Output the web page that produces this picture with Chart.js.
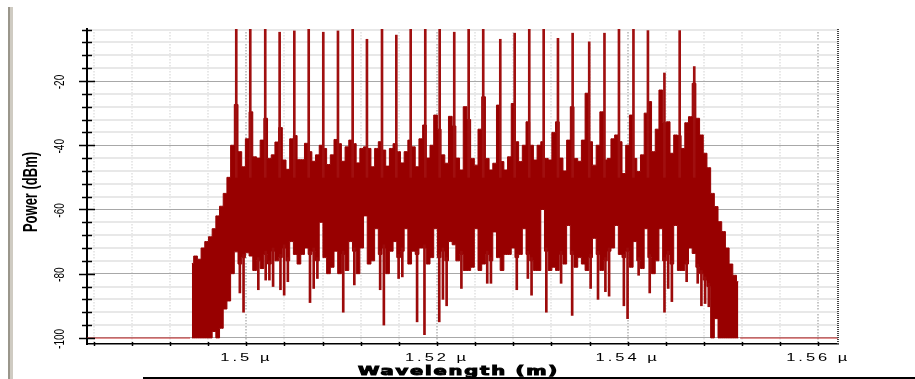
<!DOCTYPE html>
<html>
<head>
<meta charset="utf-8">
<script src="https://cdn.jsdelivr.net/npm/chart.js"></script>
<style>
  body { margin: 0; background: #fff; }
  #wrap { position: relative; width: 915px; height: 379px; overflow: hidden; }
  #leftBar { position: absolute; left: 8px; top: 7px; width: 5px; height: 372px;
             background: linear-gradient(to right, #9a968b 0 45%, #cfcbc2 45%); }
  #bottomLine { position: absolute; left: 143px; top: 377px; width: 772px; height: 2px; background: #000; }
  canvas { position: absolute; left: 0; top: 0; }
</style>
</head>
<body>
<div id="wrap">
  <canvas id="spectrum" width="915" height="379"></canvas>
  <div id="leftBar"></div>
  <div id="bottomLine"></div>
</div>
<script>
// 軸の範囲 (um, dBm)
const xMin = 1.48328, xMax = 1.56207;
const yMin = -101.9, yMax = -3.8;

// 目盛り
const xTickValues = [1.484, 1.488, 1.492, 1.496, 1.5, 1.504, 1.508, 1.512, 1.516, 1.52,
                     1.524, 1.528, 1.532, 1.536, 1.54, 1.544, 1.548, 1.552, 1.556, 1.56];
const xLabelValues = [1.5, 1.52, 1.54, 1.56];
const xLabels = ['1.5 µ', '1.52 µ', '1.54 µ', '1.56 µ'];
const yTickValues = [-100, -96, -92, -88, -84, -80, -76, -72, -68, -64, -60, -56, -52,
                     -48, -44, -40, -36, -32, -28, -24, -20, -16, -12, -8, -4];
const yLabelValues = [-100, -80, -60, -40, -20];
const yLabels = ['-100', '-80', '-60', '-40', '-20'];

// スペクトルのビン (開始波長, 間隔)
const binStartWl = 1.49428;
const binStepWl = 0.00038739;
// 各ビンの上端 (dBm)
const bodyHigh = [
  -76.8, -74.5, -75.5, -72, -70, -68.5, -66, -62, -59, -55, -50,
  -40, -27.3, -42, -46.7,   -38, -29.6, -43.6, -44,   -38.4, -31.6, -44.1, -43,
  -39, -34.5, -44.6, -47.5, -38, -37, -44.5, -44.5,   -39.4, -42, -45, -43,
  -40, -41, -46, -43,       -38.2, -39.5, -45, -40.5, -38.4, -39.5, -45.5, -41,
  -40.5, -41, -46.7, -41,   -38.9, -41.5, -46.5, -41, -39.5, -42, -45.5, -42,
  -38.4, -40.5, -46.7, -38, -33.7, -44, -40, -30.6,   -35, -43, -45.6, -31,
  -34, -44, -47.7, -28,     -32, -44.1, -46.2, -35,   -24.9, -44.1, -47.7, -45.6,
  -27.5, -45.1, -47.7, -43.6, -27, -38.9, -45.1, -40, -32.7, -40, -44.6, -40,
  -38.9, -44.1, -44.6, -36, -32.7, -44, -48, -38.4,   -28, -44.1, -45, -38.4,
  -23.8, -38.9, -46.2, -40, -29.6, -44.6, -44.1, -38, -36.8, -38.9, -48.8, -40,
  -30.6, -44.1, -48.2, -43, -30, -26.4, -42, -35,     -22.8, -33, -32.7, -42.5,
  -36.8, -37, -41, -33,     -31.1, -20.7, -31.6, -36.8,
  -42.5, -47, -55, -59.1,   -63.8, -66.9, -72, -77,   -80.5, -82.5
];
// 各ビンの塗りつぶし部分の下端 (dBm)
const bodyLow = [
  -100, -100, -100, -100, -100, -100, -98, -100, -97, -91, -88.5,
  -80, -73.2, -77, -75,     -73.5, -74.5, -79, -76,   -78.4, -74, -77, -73,
  -76, -75, -72, -76,       -70, -74, -77, -74,       -72, -74, -73, -76,
  -64, -75, -80, -78,       -73, -80, -74, -79,       -70, -73, -80, -72,
  -62, -77, -76, -66,       -74, -72, -80, -73,       -70, -75, -73, -66,
  -77, -73, -74, -72,       -72, -77, -75, -66,       -75, -73, -76, -70,
  -71, -76, -74, -79,       -79, -78, -66, -79,       -77, -74, -76, -67,
  -75, -79, -74, -74,       -72, -75, -74, -66,       -74, -76, -79, -79,
  -60, -73, -79, -78,       -79, -74, -77, -65,       -74, -78, -75, -77,
  -79, -75, -69, -74,       -79, -76, -73, -72,       -65, -74, -75, -73,
  -78, -70, -76, -78.4,     -66, -75, -80, -76,       -66, -76, -74, -77,
  -65, -79, -79, -77,       -72, -73.7, -78, -80,
  -82, -84, -100, -94,      -100, -100, -100, -100,   -100, -100
];
// 細い線で下に伸びる部分の最小値 (null = なし)
const dipLow = [
  null, null, null, null, null, null, null, null, null, null, null,
  null, null, -86, -92,     null, null, null, -85,    null, -82, -82, -84,
  null, -85, -86.7, -82.5,  null, null, null, null,   null, -89, -84.6, -81.5,
  null, null, null, null,   null, null, -92, null,    null, -83.5, null, null,
  null, null, null, null,   -85, -96, null, null,     null, -81.5, -81, null,
  null, null, -95, null,    -99, null, null, null,    -95, -88, -90, null,
  null, null, -84.6, null,  null, null, null, null,   null, -83, -83, null,
  null, null, null, null,   null, -85, null, null,    -81.5, -86.7, null, null,
  null, -92, null, null,    null, -83, null, null,    -93, null, null, null,
  null, -84.6, null, -88,   null, -85.6, -87, null,   null, null, -90, -94,
  null, null, -80.5, null,  null, -86, null, null,    null, -92, -84.6, -88.7,
  null, null, null, -82.5,  null, null, -83, -90,
  -89.3, -90.3, null, null, null, null, null, null,   null, null
];

// 縦線状のピーク (波長と頂点)
const spikeWl = [1.49873, 1.50020, 1.50177, 1.50328, 1.50482, 1.50633, 1.50786, 1.50940,
                 1.51094, 1.51244, 1.51402, 1.51552, 1.51703, 1.51856, 1.52007, 1.52160,
                 1.52311, 1.52464, 1.52643, 1.52794, 1.52947, 1.53098, 1.53248, 1.53402,
                 1.53576, 1.53736, 1.53888, 1.54040, 1.54192, 1.54365, 1.54525, 1.54678];
const spikeTop = [-2, -3, -2, -4.8, -4.4, -3, -4.8, -4.4, -2, -7.0, -3, -5.7, -3, -3, -3, -4.8,
                  -2, -3, -7.0, -5.1, -3, -3, -6.7, -5.1, -7.8, -5.1, -3, -3, -4.3, -17.5, -4.3, -15.5];
const spikeFloor = -50;

// ノイズフロア
const floorLeftWl = [1.48328, 1.4941];
const floorRightWl = [1.5518, 1.56207];
const floorLevel = -100;

const binWl = i => binStartWl + i * binStepWl;
const upperData = bodyHigh.map((h, i) => ({ x: binWl(i), y: h }));
const lowerData = bodyLow.map((l, i) => ({ x: binWl(i), y: l }));
const dipData = dipLow.map((d, i) => d === null ? null : { x: binWl(i), y: [d, bodyLow[i] + 1] })
                      .filter(p => p !== null);
const spikeData = spikeWl.map((w, i) => ({ x: w, y: [spikeFloor, spikeTop[i]] }));
const floorData = [
  ...floorLeftWl.map(w => ({ x: w, y: floorLevel })),
  { x: (floorLeftWl[1] + floorRightWl[0]) / 2, y: null },
  ...floorRightWl.map(w => ({ x: w, y: floorLevel }))
];

const near = (v, list) => list.some(t => Math.abs(t - v) < 1e-6);

// 軸の目盛り線と文字を描く
const axisDecor = {
  id: 'axisDecor',
  afterDraw(chart) {
    const { ctx, chartArea: a, scales: { x, y } } = chart;
    ctx.save();
    ctx.strokeStyle = '#000';
    ctx.lineWidth = 1.5;
    yTickValues.forEach(v => {
      const py = Math.round(y.getPixelForValue(v)) + 0.5;
      const len = near(v, yLabelValues) ? 8 : 5;
      ctx.beginPath();
      ctx.moveTo(a.left - len, py);
      ctx.lineTo(a.left + len, py);
      ctx.stroke();
    });
    xTickValues.forEach(v => {
      const px = Math.round(x.getPixelForValue(v)) + 0.5;
      ctx.beginPath();
      ctx.moveTo(px, a.bottom - 2);
      ctx.lineTo(px, a.bottom + 2);
      ctx.stroke();
    });
    // 右側の点線枠
    ctx.setLineDash([1, 1]);
    ctx.lineWidth = 2;
    ctx.strokeStyle = '#444';
    ctx.beginPath();
    ctx.moveTo(a.right, a.top);
    ctx.lineTo(a.right, a.bottom);
    ctx.stroke();
    ctx.setLineDash([]);

    ctx.fillStyle = '#000';
    ctx.textAlign = 'center';
    ctx.textBaseline = 'middle';
    // x ラベル
    ctx.font = '11px "Liberation Sans", Arial, sans-serif';
    ctx.letterSpacing = '2px';
    xLabelValues.forEach((v, i) => {
      ctx.save();
      ctx.translate(x.getPixelForValue(v), a.bottom + 14);
      ctx.scale(1.5, 1);
      ctx.fillText(xLabels[i], 0, 0);
      ctx.restore();
    });
    ctx.letterSpacing = '1.2px';
    ctx.font = 'bold 13px "DejaVu Sans", sans-serif';
    ctx.save();
    ctx.translate((a.left + a.right) / 2 - 4, 372);
    ctx.scale(1.5, 1);
    ctx.fillText('Wavelength (m)', 0, 0);
    ctx.strokeStyle = '#000';
    ctx.lineWidth = 1;
    ctx.strokeText('Wavelength (m)', 0, 0);
    ctx.restore();
    // y ラベル (縦書き)
    ctx.letterSpacing = '0px';
    ctx.font = '10px "Liberation Sans", Arial, sans-serif';
    yLabelValues.forEach((v, i) => {
      ctx.save();
      ctx.translate(60, y.getPixelForValue(v) + 1);
      ctx.scale(1.5, 1);
      ctx.rotate(-Math.PI / 2);
      ctx.fillText(yLabels[i], 0, 0);
      ctx.restore();
    });
    ctx.font = 'bold 13px "Liberation Sans", Arial, sans-serif';
    ctx.save();
    ctx.translate(32, 192);
    ctx.scale(1.5, 1);
    ctx.rotate(-Math.PI / 2);
    ctx.fillText('Power (dBm)', 0, 0);
    ctx.restore();
    ctx.restore();
  }
};

// 隠れた x 軸 (ピークと下向きの線用, 同じ範囲)
const hiddenX = { type: 'linear', display: false, min: xMin, max: xMax, offset: false, grid: { offset: false } };

const ctx = document.getElementById('spectrum').getContext('2d');

const spectrumChart = new Chart(ctx, {
  type: 'bar',
  data: {
    datasets: [
      {
        type: 'line',
        label: 'floor',
        data: floorData,
        borderColor: 'rgba(200, 60, 60, 0.75)',
        borderWidth: 1.5,
        pointRadius: 0,
        spanGaps: false,
        order: 5
      },
      {
        // 上側の包絡線 (下側まで塗る)
        type: 'line',
        label: 'spectrum',
        data: upperData,
        stepped: 'middle',
        borderColor: '#980000',
        borderWidth: 1,
        backgroundColor: '#980000',
        pointRadius: 0,
        fill: '+1',
        clip: 0,
        order: 4
      },
      {
        type: 'line',
        label: 'spectrum low',
        data: lowerData,
        stepped: 'middle',
        borderColor: '#980000',
        borderWidth: 1,
        pointRadius: 0,
        fill: false,
        clip: 0,
        order: 3
      },
      {
        label: 'dips',
        data: dipData,
        xAxisID: 'xDip',
        backgroundColor: '#9c0a0a',
        barThickness: 2,
        clip: 0,
        order: 2
      },
      {
        label: 'peaks',
        data: spikeData,
        xAxisID: 'xPeak',
        backgroundColor: '#a00f0f',
        barThickness: 2,
        clip: 0,
        order: 1
      }
    ]
  },
  options: {
    responsive: false,
    animation: false,
    devicePixelRatio: 1,
    layout: { padding: { left: 0, top: 29, right: 77, bottom: 0 } },
    plugins: { legend: { display: false }, tooltip: { enabled: false } },
    scales: {
      x: {
        type: 'linear',
        min: xMin,
        max: xMax,
        offset: false,
        afterBuildTicks: s => { s.ticks = xTickValues.map(v => ({ value: v })); },
        afterFit: s => { s.height = 35; },
        ticks: { display: false },
        grid: {
          offset: false,
          drawTicks: false,
          color: c => near(c.tick.value, xLabelValues) ? '#c6c6c6' : '#e8e8e8',
          lineWidth: 2
        },
        border: { color: '#000', width: 1.5, dash: [1.5, 1.5] }
      },
      xPeak: hiddenX,
      xDip: { ...hiddenX },
      y: {
        min: yMin,
        max: yMax,
        afterBuildTicks: s => { s.ticks = yTickValues.map(v => ({ value: v })); },
        afterFit: s => { s.width = 87; },
        ticks: { display: false },
        grid: {
          drawTicks: false,
          color: c => near(c.tick.value, yLabelValues) ? '#a8a8a8' : '#e8e8e8',
          lineWidth: c => near(c.tick.value, yLabelValues) ? 1 : 2
        },
        border: { color: '#000', width: 2 }
      }
    }
  },
  plugins: [axisDecor]
});
</script>
</body>
</html>
